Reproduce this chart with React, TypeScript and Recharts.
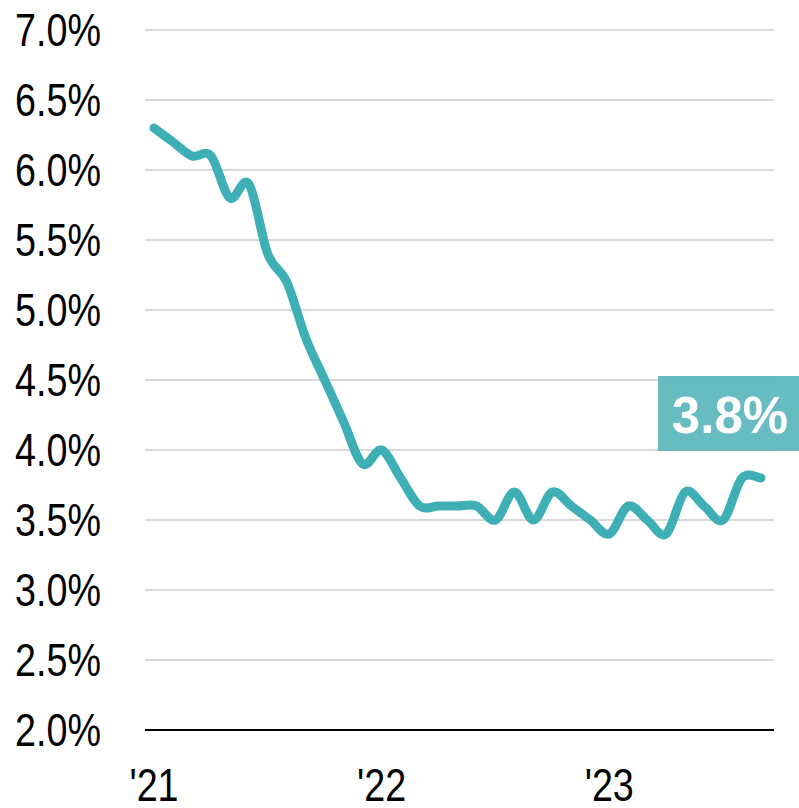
import * as React from 'react';
import {
  LineChart, Line, XAxis, YAxis, CartesianGrid, LabelList,
} from 'recharts';

// Monthly unemployment rate, Jan 2021 – Sep 2023
const months = [
  'Jan 21', 'Feb 21', 'Mar 21', 'Apr 21', 'May 21', 'Jun 21',
  'Jul 21', 'Aug 21', 'Sep 21', 'Oct 21', 'Nov 21', 'Dec 21',
  'Jan 22', 'Feb 22', 'Mar 22', 'Apr 22', 'May 22', 'Jun 22',
  'Jul 22', 'Aug 22', 'Sep 22', 'Oct 22', 'Nov 22', 'Dec 22',
  'Jan 23', 'Feb 23', 'Mar 23', 'Apr 23', 'May 23', 'Jun 23',
  'Jul 23', 'Aug 23', 'Sep 23',
];

const rates = [
  6.3, 6.2, 6.1, 6.1, 5.8, 5.9, 5.4, 5.2, 4.8, 4.5, 4.2, 3.9,
  4.0, 3.8, 3.6, 3.6, 3.6, 3.6, 3.5, 3.7, 3.5, 3.7, 3.6, 3.5,
  3.4, 3.6, 3.5, 3.4, 3.7, 3.6, 3.5, 3.8, 3.8,
];

const yTicks = [2.0, 2.5, 3.0, 3.5, 4.0, 4.5, 5.0, 5.5, 6.0, 6.5, 7.0];
const xTicks = ['Jan 21', 'Jan 22', 'Jan 23'];
const xTickLabels: Record<string, string> = {
  'Jan 21': "'21",
  'Jan 22': "'22",
  'Jan 23': "'23",
};

const TEAL = '#3fafb6';
const BOX = '#5fb8bf';
const FONT = '"Liberation Sans", Arial, sans-serif';
const NARROW = 0.82; // fake Arial Narrow by squeezing horizontally

const data = months.map((m, i) => ({ month: m, rate: rates[i] }));

// Catmull-Rom style smoothing (like Excel's smoothed line), slight overshoot
function smoothCurve(context: any) {
  let pts: [number, number][] = [];
  return {
    areaStart() {},
    areaEnd() {},
    lineStart() { pts = []; },
    point(x: number, y: number) { pts.push([+x, +y]); },
    lineEnd() {
      const n = pts.length;
      if (!n) return;
      context.moveTo(pts[0][0], pts[0][1]);
      for (let i = 0; i < n - 1; i++) {
        const p0 = pts[Math.max(i - 1, 0)];
        const p1 = pts[i];
        const p2 = pts[i + 1];
        const p3 = pts[Math.min(i + 2, n - 1)];
        context.bezierCurveTo(
          p1[0] + (p2[0] - p0[0]) / 6, p1[1] + (p2[1] - p0[1]) / 6,
          p2[0] - (p3[0] - p1[0]) / 6, p2[1] - (p3[1] - p1[1]) / 6,
          p2[0], p2[1],
        );
      }
    },
  };
}

function YTick({ x, y, payload }: any) {
  return (
    <text
      transform={`translate(${x},${y}) scale(${NARROW},1)`}
      dy="0.355em"
      textAnchor="end"
      fill="#000"
      fontSize={46}
      fontFamily={FONT}
    >
      {`${Number(payload.value).toFixed(1)}%`}
    </text>
  );
}

function XTick({ x, y, payload }: any) {
  return (
    <text
      transform={`translate(${x},${y}) scale(${NARROW},1)`}
      dy="0.71em"
      textAnchor="middle"
      fill="#000"
      fontSize={46}
      fontFamily={FONT}
    >
      {xTickLabels[payload.value] ?? ''}
    </text>
  );
}

// Callout box on the latest reading
function LastLabel(props: any) {
  const { x, y, index, value } = props;
  if (index !== data.length - 1) return null;
  return (
    <g>
      <rect x={x - 103} y={y - 102} width={142} height={75} fill={BOX} fillOpacity={0.95} />
      <text
        x={x - 31}
        y={y - 45}
        textAnchor="middle"
        fill="#fff"
        fontSize={51}
        fontWeight={700}
        fontFamily={FONT}
      >
        {Number(value).toFixed(1)}%
      </text>
    </g>
  );
}

export default function App() {
  return (
    <div style={{ position: 'absolute', left: 0, top: 0, background: '#fff' }}>
      <LineChart
        width={799}
        height={808}
        data={data}
        margin={{ top: 30, right: 25, bottom: 0, left: 0 }}
      >
        <CartesianGrid vertical={false} stroke="#d9d9d9" strokeWidth={2} />
        <XAxis
          dataKey="month"
          ticks={xTicks}
          interval={0}
          tickLine={false}
          tickSize={0}
          tickMargin={38}
          axisLine={{ stroke: '#000', strokeWidth: 2 }}
          padding={{ left: 9, right: 13 }}
          height={78}
          tick={<XTick />}
        />
        <YAxis
          domain={[2, 7]}
          ticks={yTicks}
          width={145}
          tickLine={false}
          axisLine={false}
          tickSize={0}
          tickMargin={44}
          tick={<YTick />}
        />
        <Line
          type={smoothCurve as any}
          dataKey="rate"
          stroke={TEAL}
          strokeWidth={9}
          strokeLinecap="round"
          strokeLinejoin="round"
          dot={false}
          activeDot={false}
          isAnimationActive={false}
        >
          <LabelList dataKey="rate" content={LastLabel} />
        </Line>
      </LineChart>
    </div>
  );
}
